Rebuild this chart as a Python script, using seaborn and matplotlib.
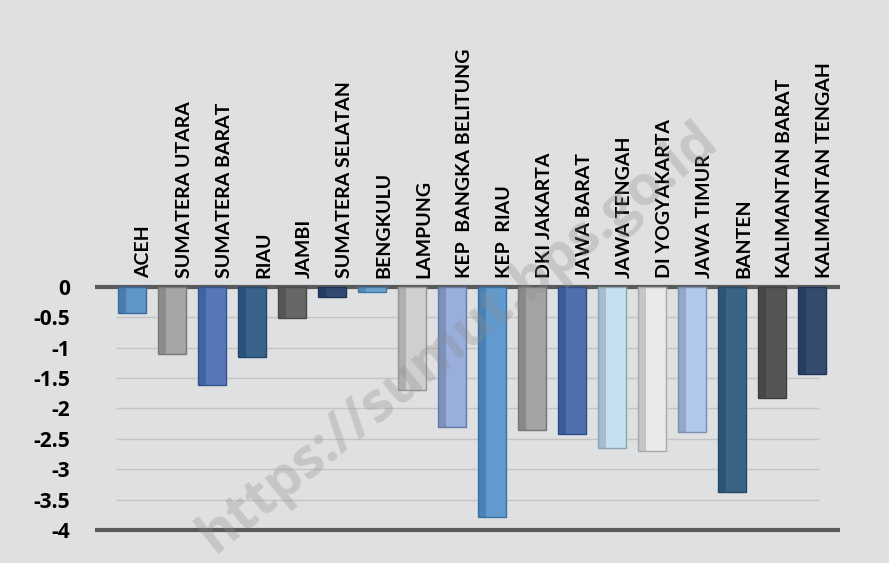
import numpy as np
import pandas as pd
import matplotlib
matplotlib.use("Agg")
import matplotlib.pyplot as plt
import matplotlib.colors as mcolors
import seaborn as sns

# data
provinces = [
    "ACEH", "SUMATERA UTARA", "SUMATERA BARAT", "RIAU", "JAMBI",
    "SUMATERA SELATAN", "BENGKULU", "LAMPUNG", "KEP  BANGKA BELITUNG",
    "KEP  RIAU", "DKI JAKARTA", "JAWA BARAT", "JAWA TENGAH",
    "DI YOGYAKARTA", "JAWA TIMUR", "BANTEN", "KALIMANTAN BARAT",
    "KALIMANTAN TENGAH",
]
values = [-0.43, -1.10, -1.61, -1.15, -0.51, -0.16, -0.08, -1.70, -2.30,
          -3.79, -2.35, -2.42, -2.65, -2.70, -2.39, -3.37, -1.83, -1.43]
bar_colors = [
    "#4f95d8", "#a6a6a6", "#4673c8", "#2b6399", "#666666", "#27457a",
    "#5aa5e0", "#cfcfcf", "#8eaae6", "#4f9be0", "#a3a3a3", "#3f6bbd",
    "#bfe2f7", "#e9e9e9", "#a8c6f4", "#2c6593", "#555555", "#2a4779",
]
y_ticks = [0, -0.5, -1, -1.5, -2, -2.5, -3, -3.5, -4]
y_tick_labels = ["0", "-0.5", "-1", "-1.5", "-2", "-2.5", "-3", "-3.5", "-4"]

df = pd.DataFrame({"province": provinces, "value": values})

bg = "#dfe0e2"
fig = plt.figure(figsize=(8.89, 5.63), dpi=100)
fig.patch.set_facecolor(bg)
ax = fig.add_axes([95 / 889, 1 - 533 / 563, 745 / 889, 249 / 563])
ax.set_facecolor(bg)

sns.barplot(data=df, x="province", y="value", hue="province",
            palette=bar_colors, legend=False, width=0.7, ax=ax,
            edgecolor="none", zorder=3)

# fake 3d side face and darker edge on each bar
for patch, col in zip(ax.patches, bar_colors):
    dark = np.array(mcolors.to_rgb(col)) * 0.72
    patch.set_edgecolor(dark)
    patch.set_linewidth(1.0)
    x0, w = patch.get_x(), patch.get_width()
    y0, h = patch.get_y(), patch.get_height()
    ax.add_patch(plt.Rectangle((x0, y0), w * 0.3, h, facecolor=dark,
                               edgecolor="none", alpha=0.55, zorder=4))

ax.set_xlim(-0.925, 17.7)
ax.set_ylim(-4.05, 0.05)

for yv in y_ticks[1:-1]:
    ax.axhline(yv, xmin=0.03, xmax=0.97, color="#c4c4c4", lw=1.0, zorder=1)
ax.axhline(0, color="#5a5a5a", lw=3, zorder=2)
ax.axhline(-4, color="#5a5a5a", lw=3, zorder=2)

ax.set_yticks(y_ticks)
ax.set_yticklabels(y_tick_labels, fontsize=15, fontweight="bold",
                   family="Open Sans")
ax.tick_params(axis="y", length=0, pad=18)
ax.set_xticks([])
ax.set_xlabel("")
ax.set_ylabel("")
sns.despine(ax=ax, left=True, bottom=True)

# category labels standing above the zero line
for i, name in enumerate(provinces):
    ax.text(i + 0.3, 0.15, name, rotation=90, ha="center", va="bottom",
            fontsize=14, fontweight="bold", family="Lato",
            color="black", clip_on=False, zorder=5)

# watermark
fig.text(0.515, 0.4, "https://sumut.bps.go.id", rotation=39,
         ha="center", va="center", fontsize=40, fontweight="bold",
         family="Open Sans", color="#8c8c8c", alpha=0.3, zorder=10)

fig.savefig("out.png", dpi=100, facecolor=bg)
